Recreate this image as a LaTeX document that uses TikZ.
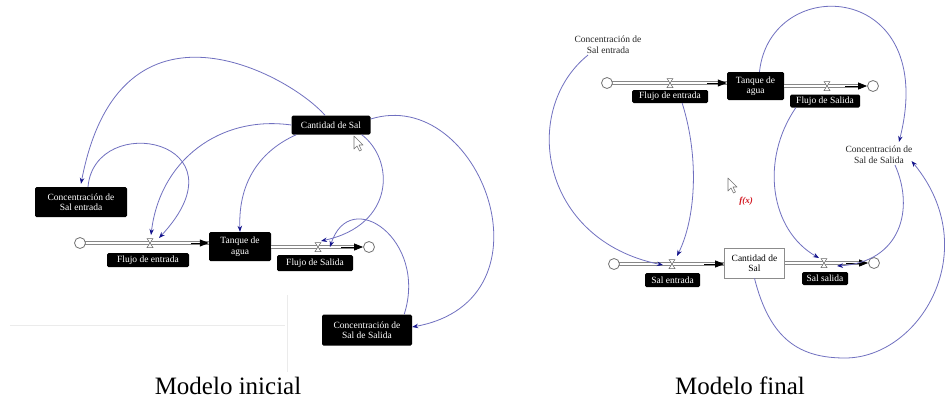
\documentclass[tikz,border=0pt]{standalone}
\usepackage{fontspec}
\setmainfont{Liberation Serif}
\usetikzlibrary{arrows.meta,calc}

\definecolor{linkblue}{RGB}{112,112,192}
\definecolor{tipblue}{RGB}{20,20,140}
\definecolor{pipegray}{RGB}{135,135,135}
\definecolor{fxred}{RGB}{210,20,30}

\tikzset{
  blackbox/.style={fill=black, text=white, rounded corners=1.5pt, inner sep=1pt,
    align=center, font=\fontsize{9.5}{10.5}\selectfont},
  stockwhite/.style={draw=black!45, fill=white, line width=0.7pt, inner sep=1pt,
    align=center, font=\fontsize{9.5}{10.5}\selectfont},
  plaintext/.style={text=black!85, align=center, inner sep=1pt,
    font=\fontsize{9.5}{11}\selectfont},
  caption/.style={font=\fontsize{25}{30}\selectfont, inner sep=0pt},
  link/.style={draw=linkblue, line width=0.8pt,
    -{Stealth[length=6pt,width=4.5pt,color=tipblue]}},
  pipeouter/.style={draw=pipegray, line width=3.4pt},
  pipeinner/.style={draw=white, line width=1.6pt},
  pipeend/.style={draw=black, line width=0.8pt, -{Triangle[length=9pt,width=7pt]}},
  cloudnode/.style={circle, draw=black!55, line width=0.8pt, fill=white,
    minimum size=11pt, inner sep=0pt},
  valve/.style={draw=black!60, fill=white, line width=0.5pt},
  cursor/.style={draw=black!55, fill=white, line width=0.6pt, line join=round},
  faint/.style={draw=black!8, line width=0.8pt}
}

\newcommand\valveat[1]{\draw[valve] (#1) ++(-3,-4.5) -- ++(6,0) -- ++(-6,9) -- ++(6,0) -- cycle;}
\newcommand\pointerat[1]{\draw[cursor] (#1) -- ++(0,13) -- ++(3,-3) -- ++(2.5,5) -- ++(2,-1) -- ++(-2.5,-5) -- ++(4,0) -- cycle;}
% a stock-and-flow pipe: grey outline with a white core
\newcommand\pipeline[2]{\draw[pipeouter] (#1) -- (#2); \draw[pipeinner] (#1) -- (#2);}

\begin{document}
\begin{tikzpicture}[x=1pt,y=-1pt]
\useasboundingbox (0,0) rectangle (948,400);
\fill[white] (0,0) rectangle (948,400);
\clip (0,0) rectangle (948,400);

% ---------- Modelo inicial ----------
\draw[faint] (10,325) -- (285,325);
\draw[faint] (287,295) -- (287,372);

\node[blackbox, minimum width=79pt, minimum height=19pt] (cant) at (331,125) {Cantidad de Sal};
\node[blackbox, minimum width=92pt, minimum height=30pt] (cse) at (81,202) {Concentración de\\Sal entrada};
\node[blackbox, minimum width=62pt, minimum height=29pt] (tanque) at (240,246.5) {Tanque de\\agua};
\node[blackbox, minimum width=90pt, minimum height=31pt] (css) at (367,330) {Concentración de\\Sal de Salida};

\coordinate (v1) at (150,243);
\coordinate (v2) at (318,247);
\coordinate (p1) at (tanque.west |- v1);
\coordinate (p2) at (tanque.east |- v2);
\coordinate (q1) at (80,243);
\coordinate (q2) at (358,247);

\pipeline{q1}{p1}
\pipeline{p2}{q2}
\node[cloudnode] (c1) at (80,243) {};
\node[cloudnode] (c2) at (369,247) {};
\draw[pipeend] ($(p1)+(-18,0)$) -- (p1);
\draw[pipeend] ($(c2.west)+(-22,0)$) -- (c2.west);
\valveat{v1}
\valveat{v2}

\node[blackbox, minimum width=82pt, minimum height=14pt] (fe) at (148,260) {Flujo de entrada};
\node[blackbox, minimum width=76pt, minimum height=16pt] (fs) at (315,263) {Flujo de Salida};

\draw[link] ($(cant.north)+(-6,0)$) .. controls (290,75) and (120,-20) .. ($(cse.north)+(0,-3)$);
\draw[link] ($(cse.north)+(7,0)$) .. controls (95,110) and (250,140) .. ($(v1)+(9,-5)$);
\draw[link] (cant.west) .. controls (220,115) and (160,160) .. ($(v1)+(1,-8)$);
\draw[link] ($(cant.south west)+(5,0)$) .. controls (262,150) and (238,180) .. (tanque.north);
\draw[link] ($(cant.south east)+(-9,0)$) .. controls (395,160) and (395,225) .. ($(v2)+(3,-6)$);
\draw[link] ($(css.north east)+(-8,0)$) .. controls (428,240) and (350,185) .. ($(v2)+(12,0)$);
\draw[link] ($(cant.east)+(0,-6)$) .. controls (480,85) and (560,300) .. ($(css.east)+(0,-3)$);

\pointerat{354,136}

\node[caption] (capA) at (228,386) {Modelo inicial};

% ---------- Modelo final ----------
\node[plaintext] (crse) at (608,45) {Concentración de\\Sal entrada};
\node[plaintext] (crss) at (879,155) {Concentración de\\Sal de Salida};

\node[blackbox, minimum width=57pt, minimum height=28pt] (tanqueB) at (755.5,86) {Tanque de\\agua};
\coordinate (v3) at (670,83);
\coordinate (v4) at (827,86);
\coordinate (p3) at (tanqueB.west |- v3);
\coordinate (p4) at (tanqueB.east |- v4);
\coordinate (q3) at (607,83);
\coordinate (q4) at (862,86);
\pipeline{q3}{p3}
\pipeline{p4}{q4}
\node[cloudnode] (c3) at (607,83) {};
\node[cloudnode] (c4) at (873,86) {};
\draw[pipeend] ($(p3)+(-20,0)$) -- (p3);
\draw[pipeend] ($(c4.west)+(-22,0)$) -- (c4.west);
\valveat{v3}
\valveat{v4}
\node[blackbox, minimum width=76pt, minimum height=13pt] (feB) at (670,96.5) {Flujo de entrada};
\node[blackbox, minimum width=70pt, minimum height=13pt] (fsB) at (825,101) {Flujo de Salida};

\node[stockwhite, minimum width=60pt, minimum height=30pt] (cantB) at (754.5,263) {Cantidad de\\Sal};
\coordinate (v5) at (672,264);
\coordinate (v6) at (824,263);
\coordinate (p5) at (cantB.west |- v5);
\coordinate (p6) at (cantB.east |- v6);
\coordinate (q5) at (614,264);
\coordinate (q6) at (863,263);
\pipeline{q5}{p5}
\pipeline{p6}{q6}
\node[cloudnode] (c5) at (614,264) {};
\node[cloudnode] (c6) at (874,263) {};
\draw[pipeend] ($(p5)+(-20,0)$) -- (p5);
\draw[pipeend] ($(c6.west)+(-22,0)$) -- (c6.west);
\valveat{v5}
\valveat{v6}
\node[blackbox, minimum width=55pt, minimum height=14pt] (se) at (672.5,280) {Sal entrada};
\node[blackbox, minimum width=46pt, minimum height=13pt] (ss) at (825,278.5) {Sal salida};

\draw[link] ($(crse.south)+(-20,0)$) .. controls (520,110) and (540,240) .. ($(v5)+(-9,1)$);
\draw[link] ($(feB.south east)+(-26,0)$) .. controls (700,160) and (695,220) .. ($(v5)+(5,-8)$);
\draw[link] ($(tanqueB.north)+(4,0)$) .. controls (770,-28) and (940,-20) .. ($(crss.north)+(20,-3)$);
\draw[link] ($(fsB.south west)+(6,0)$) .. controls (760,160) and (770,230) .. ($(v6)+(-5,-5)$);
\draw[link] ($(crss.south)+(16,0)$) .. controls (915,210) and (900,262) .. ($(v6)+(13,3)$);
\draw[link] (cantB.south) .. controls (770,340) and (800,358) .. (845,358)
  .. controls (920,358) and (985,250) .. ($(crss.south east)+(-2,-4)$);

\pointerat{728,178}
\node[text=fxred, font=\fontsize{9}{10}\selectfont\bfseries\itshape, inner sep=0pt] (fx) at (746,201) {f(x)};

\node[caption] (capB) at (740,386) {Modelo final};
\end{tikzpicture}
\end{document}
